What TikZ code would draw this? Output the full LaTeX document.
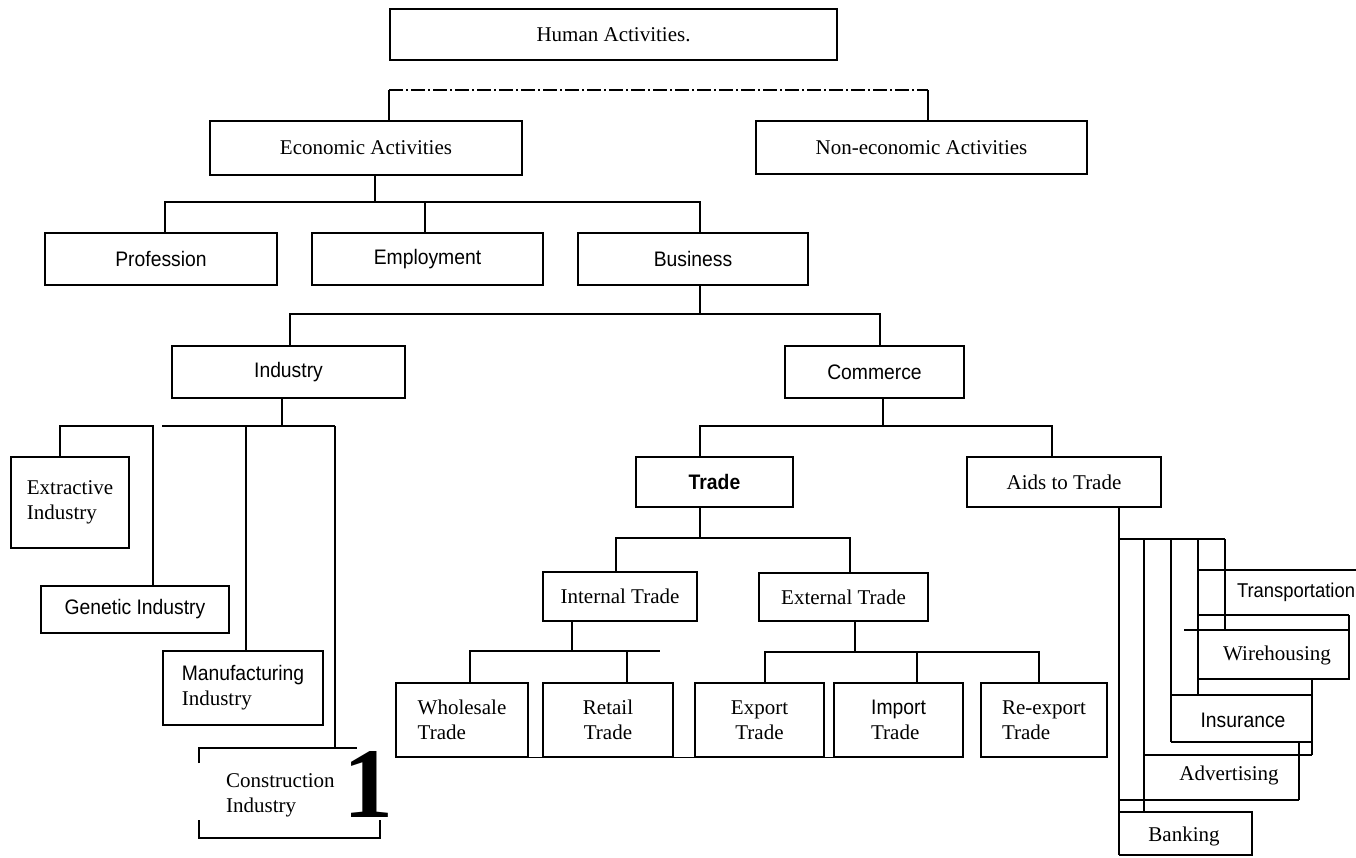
\documentclass[tikz,border=0pt]{standalone}
\usepackage{fontspec}
\setmainfont{Liberation Serif}
\newfontfamily\nsans[FakeStretch=0.92]{Liberation Sans}
\tikzset{
  every node/.style={font=\fontsize{21}{25}\selectfont, inner sep=2pt},
  box/.style={draw, line width=1.4pt},
  ln/.style={line width=1.4pt},
  thk/.style={line width=2.4pt},
  brk/.style={line width=1.1pt, dash pattern=on 14pt off 3pt on 2pt off 3pt},
  lbl/.style={inner sep=0pt},
}
\newcommand\mkbox[7][]{\node[box,#1,minimum width={#5-#3},minimum height={#6-#4}] (#2) at ({(#3+#5)/2},{(#4+#6)/2}) {#7};}
\begin{document}
\begin{tikzpicture}[x=1pt,y=-1pt,line join=miter]
\fill[white] (0,0) rectangle (1356,858);
\useasboundingbox (0,0) rectangle (1356,858);
% boxes
\mkbox{hum}{390}{9}{837}{60}{Human Activities.}
\mkbox{econ}{210}{121}{522}{175}{Economic Activities}
\mkbox{nonecon}{756}{121}{1087}{174}{Non-economic Activities}
\mkbox{prof}{45}{233}{277}{285}{\nsans Profession}
\mkbox{emp}{312}{233}{543}{285}{\nsans Employment}
\mkbox{bus}{578}{233}{808}{285}{\nsans Business}
\mkbox{ind}{172}{346}{405}{398}{\nsans Industry}
\mkbox{com}{785}{346}{964}{398}{\nsans Commerce}
\mkbox[align=left]{extr}{11}{457}{129}{548}{Extractive\\Industry}
\mkbox{gen}{41}{586}{229}{633}{\nsans Genetic Industry}
\mkbox[align=left]{manu}{163}{651}{323}{725}{{\nsans Manufacturing}\\Industry}
\mkbox{trade}{636}{457}{793}{507}{\nsans\bfseries Trade}
\mkbox{aids}{967}{457}{1161}{507}{Aids to Trade}
\mkbox{intl}{543}{572}{697}{621}{Internal Trade}
\mkbox{extl}{759}{573}{928}{621}{External Trade}
\mkbox[align=left]{whole}{396}{683}{528}{757}{Wholesale\\Trade}
\mkbox[align=center]{retail}{543}{683}{673}{757}{Retail\\Trade}
\mkbox[align=center]{export}{695}{683}{824}{757}{Export\\Trade}
\mkbox[align=left]{import}{834}{683}{963}{757}{{\nsans Import}\\Trade}
\mkbox[align=left]{reexp}{981}{683}{1107}{757}{Re-export\\Trade}
% construction box (open sides as printed)
\node[lbl, align=left, anchor=west] (cons) at (226,795) {Construction\\Industry};
\node[lbl, font=\fontsize{100}{100}\selectfont\bfseries] (one) at (368,784) {1};
\draw[ln] (199,763) -- (199,748) -- (357,748);
\draw[ln] (199,820) -- (199,838) -- (380,838) -- (380,820);
% aids to trade labels
\node[lbl, font=\nsans\fontsize{20}{24}\selectfont] (trans) at (1296,592) {Transportation};
\node[lbl] (wire) at (1277,655) {Wirehousing};
\node[lbl, font=\nsans\fontsize{21}{25}\selectfont] (insu) at (1243,720) {Insurance};
\node[lbl] (adv) at (1229,775) {Advertising};
\node[lbl] (bank) at (1184,836) {Banking};
% top bracket
\coordinate (h1) at (389,90); \coordinate (h2) at (928,90);
\draw[ln] (econ.north -| h1) -- (h1);
\draw[ln] (nonecon.north -| h2) -- (h2);
\draw[brk] (h1) -- (h2);
% economic
\coordinate (e0) at (375,202); \coordinate (e1) at (165,202);
\coordinate (e2) at (425,202); \coordinate (e3) at (700,202);
\draw[ln] (econ.south -| e0) -- (e0);
\draw[ln] (prof.north -| e1) -- (e1) -- (e3) -- (bus.north -| e3);
\draw[ln] (e2) -- (emp.north -| e2);
% business
\coordinate (b0) at (700,314); \coordinate (b1) at (290,314); \coordinate (b2) at (880,314);
\draw[ln] (bus.south -| b0) -- (b0);
\draw[ln] (ind.north -| b1) -- (b1) -- (b2) -- (com.north -| b2);
% industry
\coordinate (i0) at (282,426); \coordinate (i1) at (60,426); \coordinate (i2) at (153,426);
\coordinate (i3) at (162,426); \coordinate (i4) at (246,426); \coordinate (i5) at (335,426);
\coordinate (ctop) at (335,748);
\draw[ln] (ind.south -| i0) -- (i0);
\draw[ln] (extr.north -| i1) -- (i1) -- (i2) -- (gen.north -| i2);
\draw[ln] (i3) -- (i5);
\draw[ln] (i4) -- (manu.north -| i4);
\draw[thk] (i5) -- (ctop);
% commerce
\coordinate (c0) at (883,426); \coordinate (c1) at (700,426); \coordinate (c2) at (1052,426);
\draw[ln] (com.south -| c0) -- (c0);
\draw[ln] (trade.north -| c1) -- (c1) -- (c2) -- (aids.north -| c2);
% trade
\coordinate (t0) at (700,538); \coordinate (t1) at (616,538); \coordinate (t2) at (850,538);
\draw[ln] (trade.south -| t0) -- (t0);
\draw[ln] (intl.north -| t1) -- (t1) -- (t2) -- (extl.north -| t2);
% internal
\coordinate (n0) at (572,651); \coordinate (n1) at (470,651);
\coordinate (n2) at (627,651); \coordinate (n3) at (660,651);
\draw[ln] (intl.south -| n0) -- (n0);
\draw[ln] (whole.north -| n1) -- (n1) -- (n3);
\draw[ln] (n2) -- (retail.north -| n2);
% external
\coordinate (x0) at (855,652); \coordinate (x1) at (765,652);
\coordinate (x2) at (917,652); \coordinate (x3) at (1039,652);
\draw[ln] (extl.south -| x0) -- (x0);
\draw[ln] (export.north -| x1) -- (x1) -- (x3) -- (reexp.north -| x3);
\draw[thk] (x2) -- (import.north -| x2);
\draw[ln] (whole.south west) -- (import.south east);
% aids to trade
\coordinate (a0) at (1119,539); \coordinate (a4) at (1225,539);
\draw[ln] (aids.south -| a0) -- (1119,855);
\draw[ln] (a0) -- (a4);
\draw[ln] (1144,539) -- (1144,812);
\draw[ln] (1171,539) -- (1171,742);
\draw[ln] (1198,539) -- (1198,695);
\draw[ln] (a4) -- (1225,630);
\draw[line width=2pt] (1198,570) -- (1356,570);
\draw[ln] (1198,615) -- (1349,615);
\draw[ln] (1184,630) -- (1349,630);
\draw[ln] (1349,615) -- (1349,679) -- (1198,679);
\draw[ln] (1171,695) -- (1312,695);
\draw[ln] (1312,679) -- (1312,755);
\draw[ln] (1171,742) -- (1312,742);
\draw[ln] (1144,755) -- (1312,755);
\draw[ln] (1299,742) -- (1299,800);
\draw[ln] (1119,800) -- (1299,800);
\draw[ln] (1119,812) -- (1252,812) -- (1252,855) -- (1119,855);
\end{tikzpicture}
\end{document}
